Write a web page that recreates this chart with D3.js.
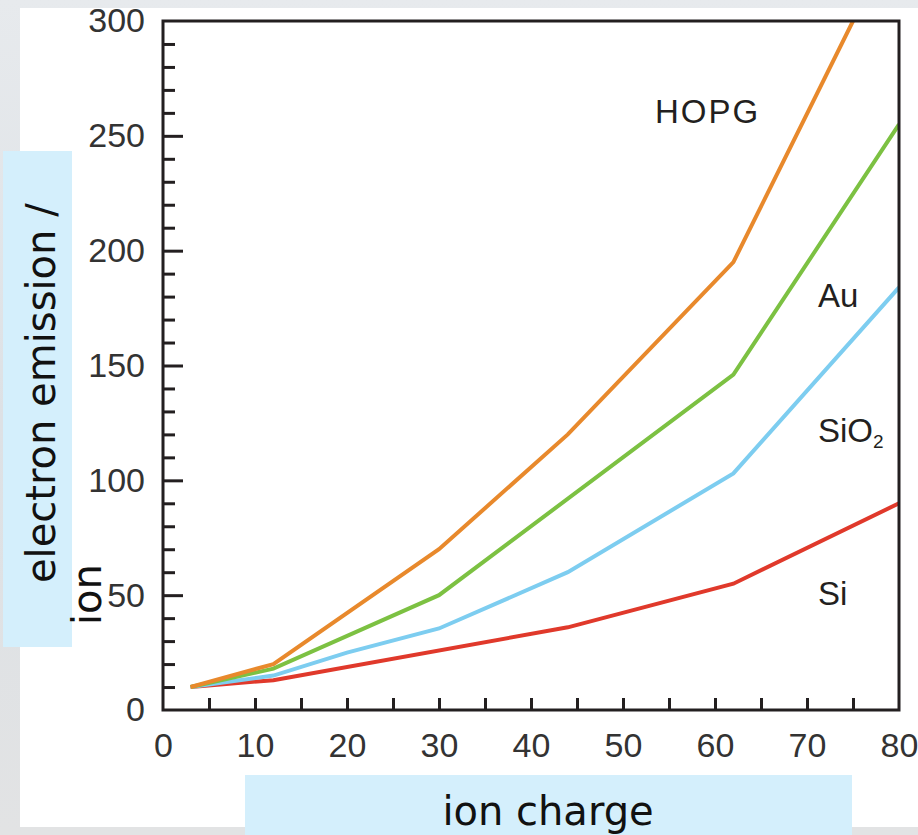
<!DOCTYPE html>
<html>
<head>
<meta charset="utf-8">
<script src="https://cdn.jsdelivr.net/npm/d3@7"></script>
<style>
  html, body { margin: 0; padding: 0; }
  body { width: 918px; height: 835px; overflow: hidden; }
  svg { display: block; }
</style>
</head>
<body>
<svg id="chart" width="918" height="835"></svg>
<script>
// ---- data ----
const ionCharge_HOPG = [3, 12, 30, 44, 62, 75];
const emission_HOPG  = [10, 20, 70, 120, 195, 300];
const ionCharge_Au   = [3, 12, 30, 62, 80];
const emission_Au    = [10, 18, 50, 146, 255];
const ionCharge_SiO2 = [3, 12, 20, 30, 44, 62, 80];
const emission_SiO2  = [10, 15, 25, 35.5, 60, 103, 184];
const ionCharge_Si   = [3, 12, 44, 62, 80];
const emission_Si    = [10, 13, 36, 55, 90];
const seriesNames    = ["Si", "SiO2", "Au", "HOPG"];
const xTickLabels    = [0, 10, 20, 30, 40, 50, 60, 70, 80];
const yTickLabels    = [0, 50, 100, 150, 200, 250, 300];
const xTitle = "ion charge";
const yTitleLines = ["electron emission /", "ion"];

const seriesData = {
  "HOPG": ionCharge_HOPG.map((x, i) => [x, emission_HOPG[i]]),
  "Au":   ionCharge_Au.map((x, i) => [x, emission_Au[i]]),
  "SiO2": ionCharge_SiO2.map((x, i) => [x, emission_SiO2[i]]),
  "Si":   ionCharge_Si.map((x, i) => [x, emission_Si[i]])
};
const colors = { "HOPG": "#e8892c", "Au": "#7cc142", "SiO2": "#7dcdf0", "Si": "#e0392b" };

const svg = d3.select("#chart");

// background
const defs = svg.append("defs");
const bg = defs.append("linearGradient").attr("id", "bg").attr("x1", 0).attr("y1", 0).attr("x2", 0).attr("y2", 1);
bg.append("stop").attr("offset", "0%").attr("stop-color", "#e7eaed");
bg.append("stop").attr("offset", "50%").attr("stop-color", "#dde1e5");
bg.append("stop").attr("offset", "100%").attr("stop-color", "#e2e3e4");
svg.append("rect").attr("x", 0).attr("y", 0).attr("width", 918).attr("height", 835).attr("fill", "url(#bg)");
// white panel
svg.append("rect").attr("x", 20).attr("y", 8).attr("width", 898).attr("height", 819).attr("fill", "#ffffff");

const x = d3.scaleLinear().domain([0, 80]).range([163, 899]);
const y = d3.scaleLinear().domain([0, 300]).range([710, 21]);

defs.append("clipPath").attr("id", "plotclip").append("rect")
  .attr("x", x(0)).attr("y", y(300)).attr("width", x(80) - x(0)).attr("height", y(0) - y(300));

const axisColor = "#231f20";
const labelFont = "'Liberation Sans', Arial, sans-serif";
const tickFontSize = 34;

// x axis labels
const gxl = svg.append("g").attr("transform", `translate(0,${y(0)})`)
  .call(d3.axisBottom(x).tickValues(xTickLabels).tickSize(0).tickPadding(23).tickFormat(d3.format("d")));
gxl.select(".domain").remove();
gxl.selectAll("text").attr("font-family", labelFont).attr("font-size", tickFontSize).attr("fill", "#333333");

// x tick marks (inward)
const xMinor = d3.range(5, 80, 5);
const gxt = svg.append("g").attr("transform", `translate(0,${y(0)})`)
  .call(d3.axisBottom(x).tickValues(xMinor).tickSize(-12).tickFormat(""));
gxt.select(".domain").remove();
gxt.selectAll("line").attr("stroke", axisColor).attr("stroke-width", 3);

// y axis labels
const gyl = svg.append("g").attr("transform", `translate(${x(0)},0)`)
  .call(d3.axisLeft(y).tickValues(yTickLabels).tickSize(0).tickPadding(18).tickFormat(d3.format("d")));
gyl.select(".domain").remove();
gyl.selectAll("text").attr("font-family", labelFont).attr("font-size", tickFontSize).attr("fill", "#333333");

// y tick marks (inward): minor every 10, major every 50
const yMinor = d3.range(10, 300, 10).filter(v => v % 50 !== 0);
const yMajor = d3.range(50, 300, 50);
const gym = svg.append("g").attr("transform", `translate(${x(0)},0)`)
  .call(d3.axisLeft(y).tickValues(yMinor).tickSize(-12).tickFormat(""));
gym.select(".domain").remove();
gym.selectAll("line").attr("stroke", axisColor).attr("stroke-width", 3);
const gyM = svg.append("g").attr("transform", `translate(${x(0)},0)`)
  .call(d3.axisLeft(y).tickValues(yMajor).tickSize(-20).tickFormat(""));
gyM.select(".domain").remove();
gyM.selectAll("line").attr("stroke", axisColor).attr("stroke-width", 3);

// series lines
const line = d3.line().x(d => x(d[0])).y(d => y(d[1]));
const gl = svg.append("g").attr("clip-path", "url(#plotclip)");
seriesNames.forEach(name => {
  gl.append("path").datum(seriesData[name])
    .attr("d", line).attr("fill", "none")
    .attr("stroke", colors[name]).attr("stroke-width", 4)
    .attr("stroke-linejoin", "miter").attr("stroke-linecap", "butt");
});

// frame
svg.append("rect").attr("x", x(0)).attr("y", y(300))
  .attr("width", x(80) - x(0)).attr("height", y(0) - y(300))
  .attr("fill", "none").attr("stroke", axisColor).attr("stroke-width", 3);

// series labels
const lab = svg.append("g").attr("font-family", labelFont).attr("font-size", 33).attr("fill", "#231f20");
lab.append("text").attr("x", 655).attr("y", 123).attr("letter-spacing", 2).text("HOPG");
lab.append("text").attr("x", 818).attr("y", 307).text("Au");
const sio2 = lab.append("text").attr("x", 818).attr("y", 442);
sio2.append("tspan").text("SiO");
sio2.append("tspan").attr("font-size", 19).attr("dy", 6).text("2");
lab.append("text").attr("x", 818).attr("y", 605).text("Si");

// axis title boxes
const titleFont = "'DejaVu Sans', Verdana, sans-serif";
svg.append("rect").attr("x", 3).attr("y", 151).attr("width", 69).attr("height", 496).attr("fill", "#d4effc");
svg.append("rect").attr("x", 245).attr("y", 775).attr("width", 607).attr("height", 60).attr("fill", "#d4effc");

svg.append("text").attr("x", 548).attr("y", 825).attr("text-anchor", "middle")
  .attr("font-family", titleFont).attr("font-size", 40).attr("fill", "#111").text(xTitle);

svg.append("text").attr("transform", "translate(55,583) rotate(-90)")
  .attr("font-family", titleFont).attr("font-size", 40).attr("fill", "#111").text(yTitleLines[0]);
svg.append("text").attr("transform", "translate(101,625) rotate(-90)")
  .attr("font-family", titleFont).attr("font-size", 40).attr("fill", "#111").text(yTitleLines[1]);
</script>
</body>
</html>
